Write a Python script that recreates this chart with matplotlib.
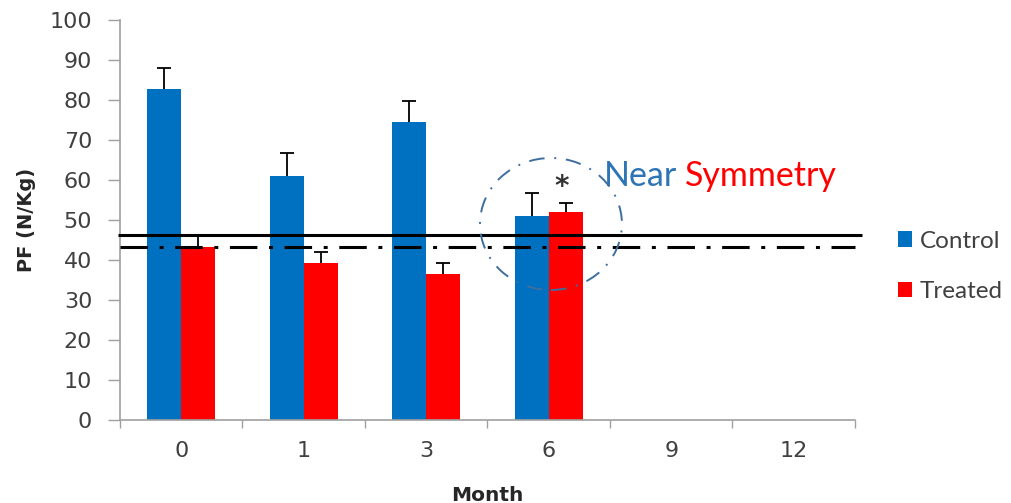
import numpy as np
import matplotlib
matplotlib.use("Agg")
import matplotlib.pyplot as plt
from matplotlib.patches import Ellipse

months = ['0', '1', '3', '6', '9', '12']
control = [82.7, 61.0, 74.6, 51.0, np.nan, np.nan]
treated = [43.3, 39.2, 36.4, 52.0, np.nan, np.nan]
control_err = [5.3, 5.8, 5.1, 5.7, np.nan, np.nan]
treated_err = [2.7, 2.8, 2.8, 2.3, np.nan, np.nan]
solid_ref = 46.3
dashdot_ref = 43.2

BLUE = '#0070C0'
RED = '#FF0000'
TXT = '#404040'

fig = plt.figure(figsize=(10.12, 5.03), dpi=100)
ax = fig.add_axes([120/1012, 83/503, 735/1012, 400/503])

x = np.arange(len(months))
w = 34/122.5
ax.bar(x - w/2, control, w, color=BLUE, label='Control', zorder=2)
ax.bar(x + w/2, treated, w, color=RED, label='Treated', zorder=2)
for xs, vals, errs in [(x - w/2, control, control_err), (x + w/2, treated, treated_err)]:
    eb = ax.errorbar(xs, vals, yerr=[np.zeros(len(x)), errs], fmt='none',
                     ecolor='black', elinewidth=1.3, capsize=5, capthick=1.3, zorder=3)
    eb[1][0].set_visible(False)  # hide lower caps

ax.set_xlim(-0.5, len(months) - 0.5)
ax.set_ylim(0, 100)
ax.set_yticks(np.arange(0, 101, 10))
ax.set_xticks(np.arange(len(months) + 1) - 0.5)
ax.set_xticklabels([])
ax.set_xticks(x, minor=True)
ax.set_xticklabels(months, minor=True)
ax.tick_params(axis='x', which='major', length=6, color='#A0A0A0', width=1, direction='out')
ax.tick_params(axis='x', which='minor', length=0, pad=15, labelsize=16, labelcolor=TXT)
ax.tick_params(axis='y', length=9, color='#A0A0A0', width=1, direction='out',
               labelsize=16, labelcolor=TXT, pad=11)
for s in ['top', 'right']:
    ax.spines[s].set_visible(False)
for s in ['left', 'bottom']:
    ax.spines[s].set_color('#A0A0A0')
    ax.spines[s].set_linewidth(1.2)

# reference lines
ax.plot([-0.516, 5.557], [solid_ref, solid_ref], color='black', lw=2.2,
        clip_on=False, zorder=4, solid_capstyle='butt')
ax.plot([-0.5, 5.5], [dashdot_ref, dashdot_ref], color='black', lw=2.2,
        linestyle=(0, (9, 3.8, 1.3, 3.8)), clip_on=False, zorder=4)

# dashed ellipse
ell = Ellipse((3.018, 49.0), 1.159, 33.0, fill=False, edgecolor='#3F6E9E',
              lw=1.4, linestyle=(0, (8, 5, 1, 5)), zorder=5)
ax.add_patch(ell)

# asterisk
ax.text(3 + w/2 - 0.03, 54.8, '*', ha='center', va='bottom', fontsize=20,
        color='#333333', fontweight='bold')

# Near Symmetry text
t1 = ax.text(3.45, 61.0, 'Near', color='#2E75B6', fontsize=24.5, family='Lato',
             ha='left', va='center')
fig.canvas.draw()
bb = t1.get_window_extent()
ax.annotate('Symmetry', xy=(bb.x1, bb.y0), xycoords='figure pixels',
            xytext=(8, 0), textcoords='offset pixels', color=RED, fontsize=24.5,
            family='Lato', ha='left', va='bottom')

ax.set_ylabel('PF (N/Kg)', fontsize=14, fontweight='bold', color='#262626', labelpad=10)
ax.set_xlabel('Month', fontsize=14.5, fontweight='bold', color='#262626', labelpad=18)

leg = fig.legend(loc='upper left', bbox_to_anchor=(888/1012, 1 - 221/503),
                 frameon=False, prop={'family': 'Lato', 'size': 17.5},
                 handlelength=0.6, handleheight=0.6, handletextpad=0.3,
                 labelspacing=1.2, borderaxespad=0)
for t in leg.get_texts():
    t.set_color(TXT)

fig.savefig('out.png', dpi=100)
